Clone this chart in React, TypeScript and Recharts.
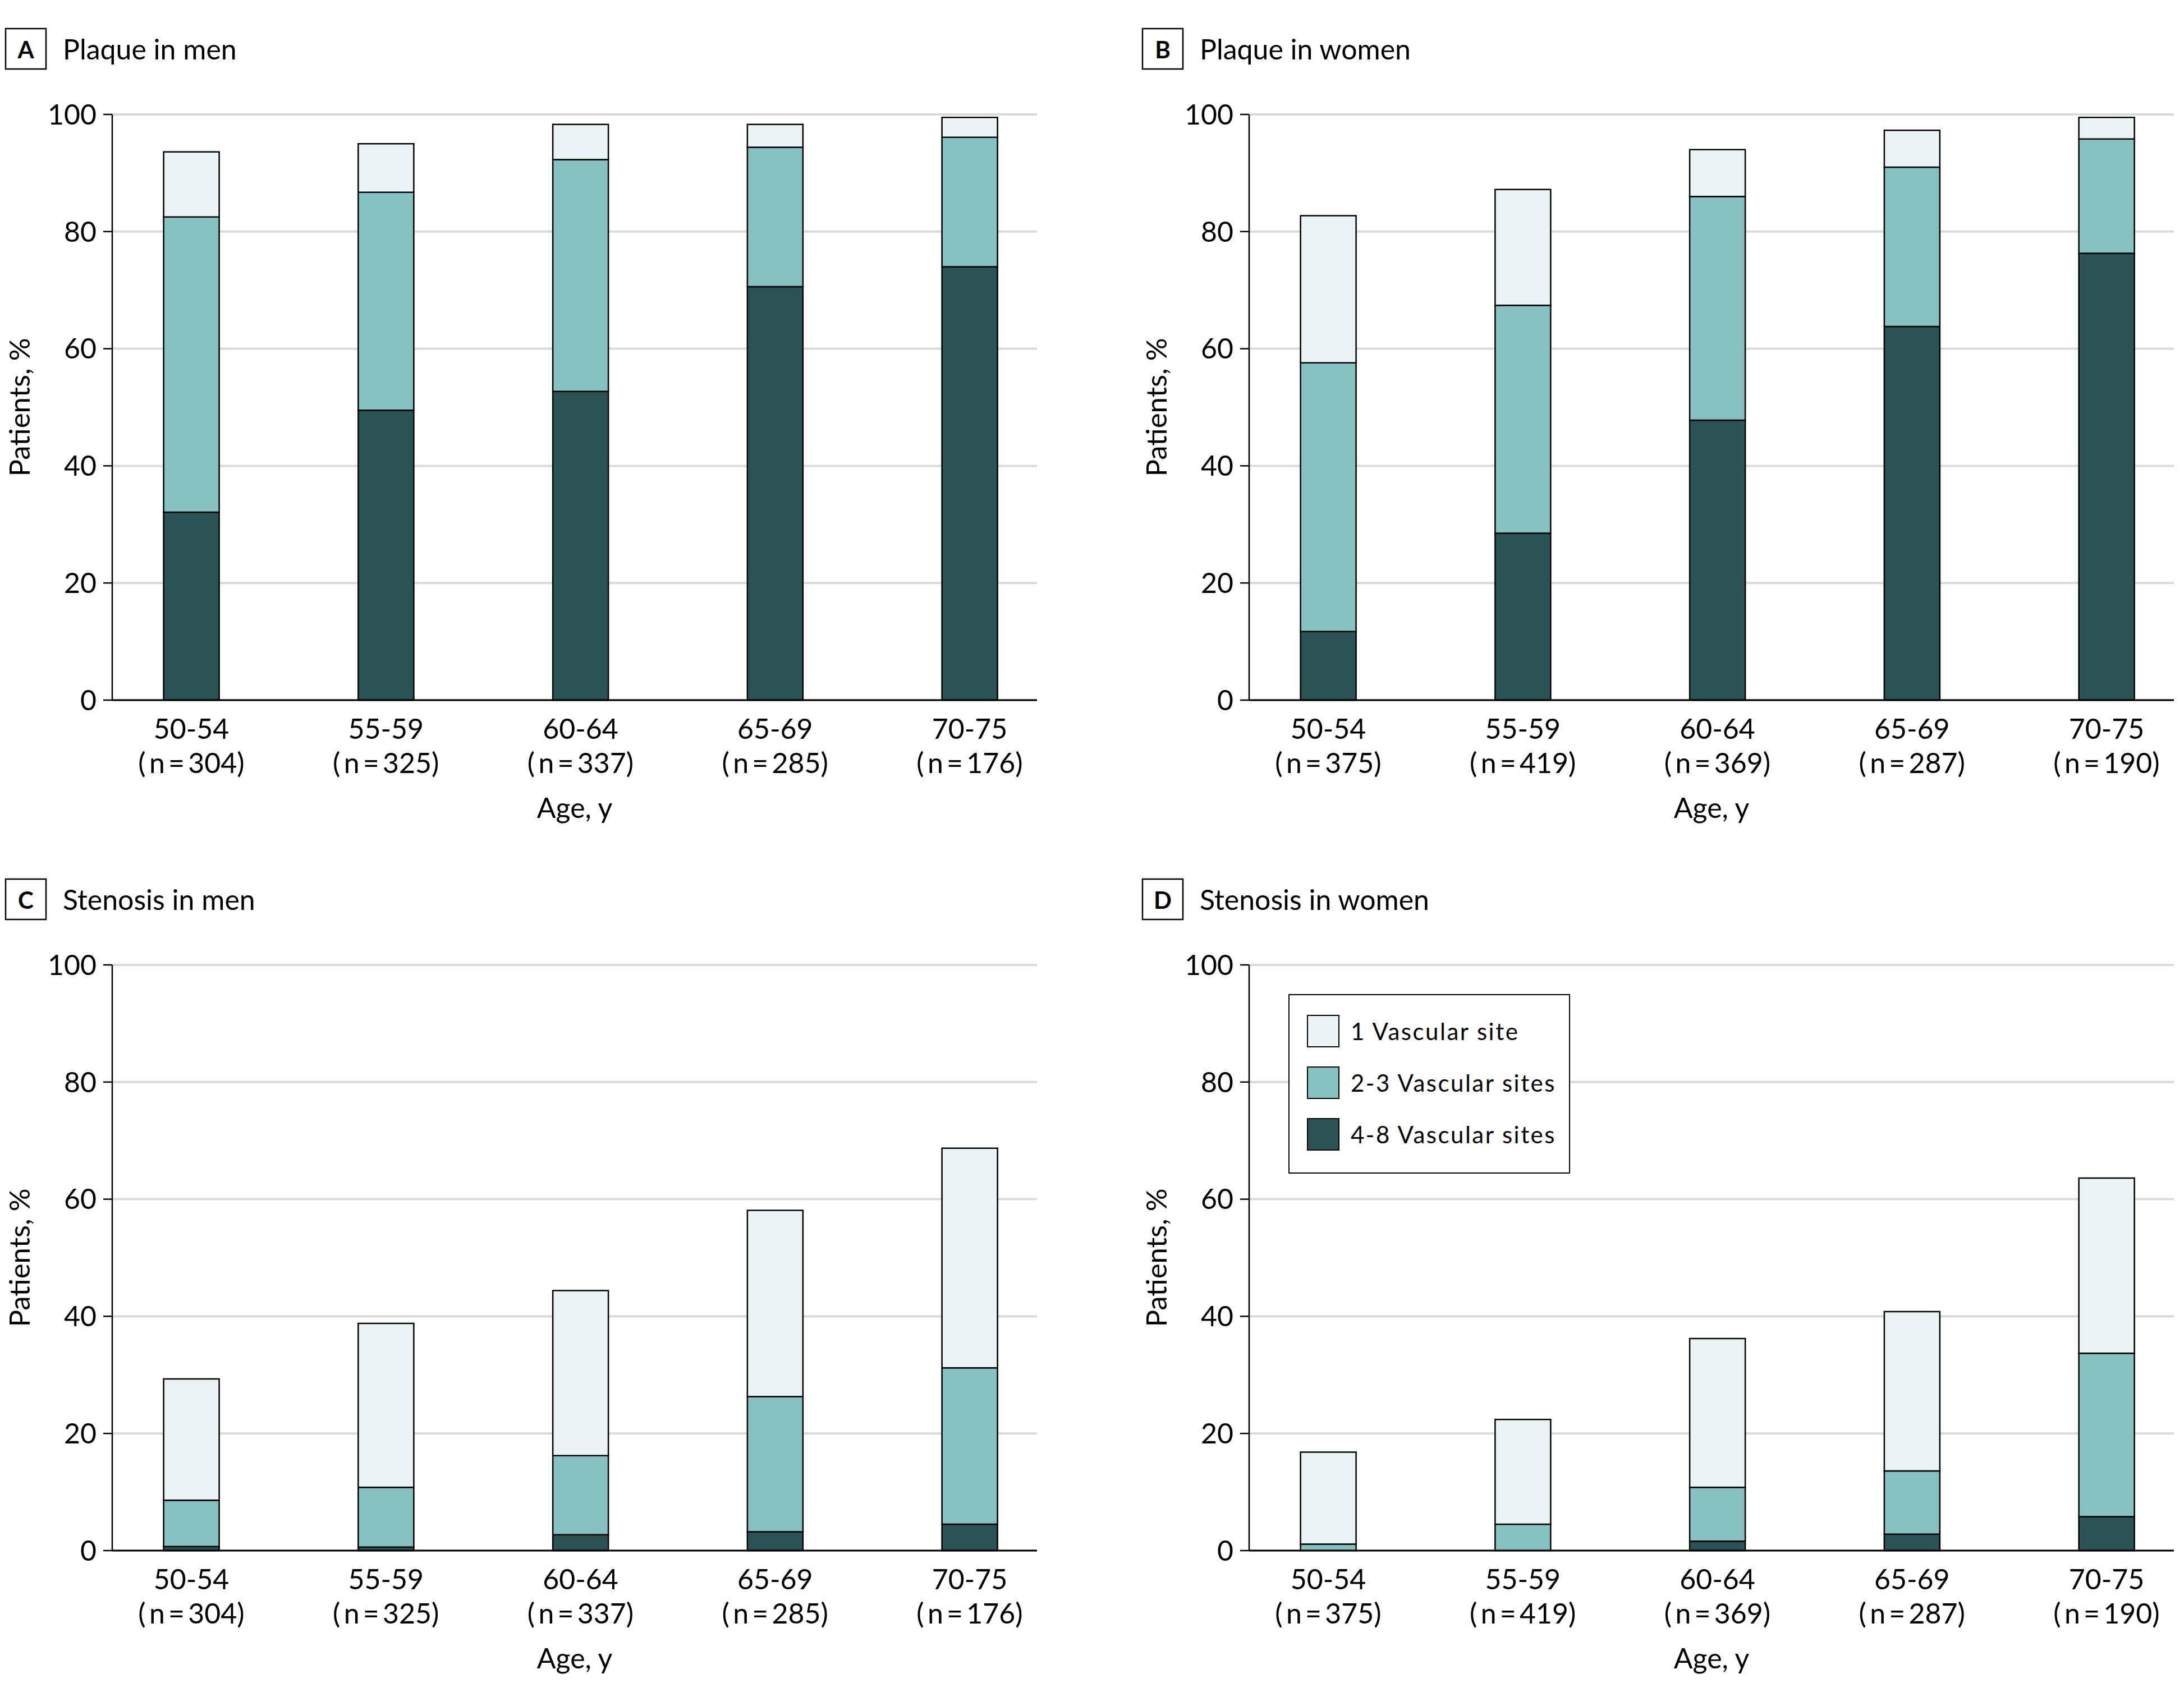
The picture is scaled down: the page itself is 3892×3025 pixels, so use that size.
import React from 'react';
import { BarChart, Bar, XAxis, YAxis, CartesianGrid, Legend } from 'recharts';

const FONT = 'Lato, "Noto Sans", sans-serif';

const ageGroups = ['50-54', '55-59', '60-64', '65-69', '70-75'];
const menN = [304, 325, 337, 285, 176];
const womenN = [375, 419, 369, 287, 190];

// A - plaque in men (segment heights, %)
const plaqueMen48 = [32.1, 49.5, 52.7, 70.6, 74.0];
const plaqueMen23 = [50.4, 37.2, 39.6, 23.8, 22.1];
const plaqueMen1 = [11.1, 8.3, 6.0, 3.9, 3.4];

// B - plaque in women
const plaqueWomen48 = [11.7, 28.5, 47.8, 63.8, 76.3];
const plaqueWomen23 = [45.9, 38.9, 38.2, 27.2, 19.5];
const plaqueWomen1 = [25.1, 19.8, 8.0, 6.3, 3.7];

// C - stenosis in men
const stenosisMen48 = [0.7, 0.6, 2.7, 3.2, 4.5];
const stenosisMen23 = [7.9, 10.2, 13.5, 23.1, 26.7];
const stenosisMen1 = [20.7, 28.0, 28.2, 31.8, 37.5];

// D - stenosis in women
const stenosisWomen48 = [0, 0, 1.6, 2.8, 5.8];
const stenosisWomen23 = [1.1, 4.5, 9.2, 10.8, 27.9];
const stenosisWomen1 = [15.7, 17.9, 25.4, 27.2, 29.9];

const yTicks = [0, 20, 40, 60, 80, 100];

const series = [
  { key: 'site48', label: '4-8 Vascular sites', color: '#2a5454' },
  { key: 'site23', label: '2-3 Vascular sites', color: '#86c1c0' },
  { key: 'site1', label: '1 Vascular site', color: '#eaf3f3' },
];

const buildRows = (s48: number[], s23: number[], s1: number[]) =>
  ageGroups.map((g, i) => ({ idx: i, site48: s48[i], site23: s23[i], site1: s1[i] }));

const W = 1866;
const H = 1500;

const AgeTick = ({ x, y, payload, nList }: any) => {
  const i = payload.value;
  return (
    <text x={x} y={y} textAnchor="middle" fill="#000" fontSize={50} fontFamily={FONT}>
      <tspan x={x} dy={69}>{ageGroups[i]}</tspan>
      <tspan x={x} dy={61}>{`(\u2009n\u2009=\u2009${nList[i]})`}</tspan>
    </text>
  );
};

const LegendBox = () => (
  <div style={{ width: 502, height: 320, border: '2.5px solid #000', boxSizing: 'border-box', background: '#fff', position: 'relative' }}>
    {[...series].reverse().map((s, i) => (
      <div key={s.key} style={{ position: 'absolute', left: 31, top: 35 + i * 92, height: 58, display: 'flex', alignItems: 'center' }}>
        <div style={{ width: 58, height: 58, background: s.color, border: '2.5px solid #000', boxSizing: 'border-box' }} />
        <span style={{ marginLeft: 20, fontSize: 42, letterSpacing: 2.5, fontFamily: FONT, color: '#000', whiteSpace: 'nowrap' }}>{s.label}</span>
      </div>
    ))}
  </div>
);

const Panel = ({ left, top, letter, title, rows, nList, legend = false }: any) => (
  <div style={{ position: 'absolute', left, top, width: W, height: H }}>
    <svg width={W} height={200} style={{ position: 'absolute', left: 0, top: 0 }}>
      <rect x={10} y={51} width={72} height={72} fill="#fff" stroke="#000" strokeWidth={2.5} />
      <text x={46} y={104} textAnchor="middle" fontSize={42} fontWeight={700} fontFamily={FONT} fill="#000">{letter}</text>
      <text x={112} y={106} fontSize={50} fontFamily={FONT} fill="#000">{title}</text>
    </svg>
    <BarChart width={W} height={H} data={rows} margin={{ top: 204, right: 18, bottom: 12, left: 80 }}>
      <CartesianGrid horizontal vertical={false} stroke="#d9d9d9" strokeWidth={4} />
      <XAxis
        dataKey="idx"
        type="number"
        domain={[-0.4066, 4.346]}
        ticks={[0, 1, 2, 3, 4]}
        interval={0}
        height={240}
        tickLine={false}
        tickSize={0}
        tickMargin={0}
        axisLine={{ stroke: '#000', strokeWidth: 3 }}
        tick={<AgeTick nList={nList} />}
        label={{ value: 'Age, y', position: 'insideBottom', offset: 30, fill: '#000', fontSize: 50, fontFamily: FONT }}
      />
      <YAxis
        type="number"
        domain={[0, 100]}
        ticks={yTicks}
        width={120}
        tickSize={16}
        tickMargin={12}
        axisLine={{ stroke: '#000', strokeWidth: 2.5 }}
        tickLine={{ stroke: '#000', strokeWidth: 2.5 }}
        tick={{ fill: '#000', fontSize: 50, fontFamily: FONT }}
        label={{ value: 'Patients, %', angle: -90, position: 'left', offset: 45, fill: '#000', fontSize: 51, fontFamily: FONT, style: { textAnchor: 'middle' } }}
      />
      {series.map((s) => (
        <Bar key={s.key} dataKey={s.key} stackId="a" fill={s.color} stroke="#000" strokeWidth={2.5} barSize={99} isAnimationActive={false} />
      ))}
      {legend && (
        <Legend
          layout="vertical"
          align="center"
          verticalAlign="middle"
          content={<LegendBox />}
          wrapperStyle={{ left: 270, top: 256, width: 502, height: 320 }}
        />
      )}
    </BarChart>
  </div>
);

export default function App() {
  return (
    <div style={{ position: 'absolute', left: 0, top: 0, width: 3892, height: 3025, background: '#fff', overflow: 'hidden' }}>
      <Panel left={0} top={0} letter="A" title="Plaque in men" rows={buildRows(plaqueMen48, plaqueMen23, plaqueMen1)} nList={menN} />
      <Panel left={2026} top={0} letter="B" title="Plaque in women" rows={buildRows(plaqueWomen48, plaqueWomen23, plaqueWomen1)} nList={womenN} />
      <Panel left={0} top={1516} letter="C" title="Stenosis in men" rows={buildRows(stenosisMen48, stenosisMen23, stenosisMen1)} nList={menN} />
      <Panel left={2026} top={1516} letter="D" title="Stenosis in women" rows={buildRows(stenosisWomen48, stenosisWomen23, stenosisWomen1)} nList={womenN} legend />
    </div>
  );
}
